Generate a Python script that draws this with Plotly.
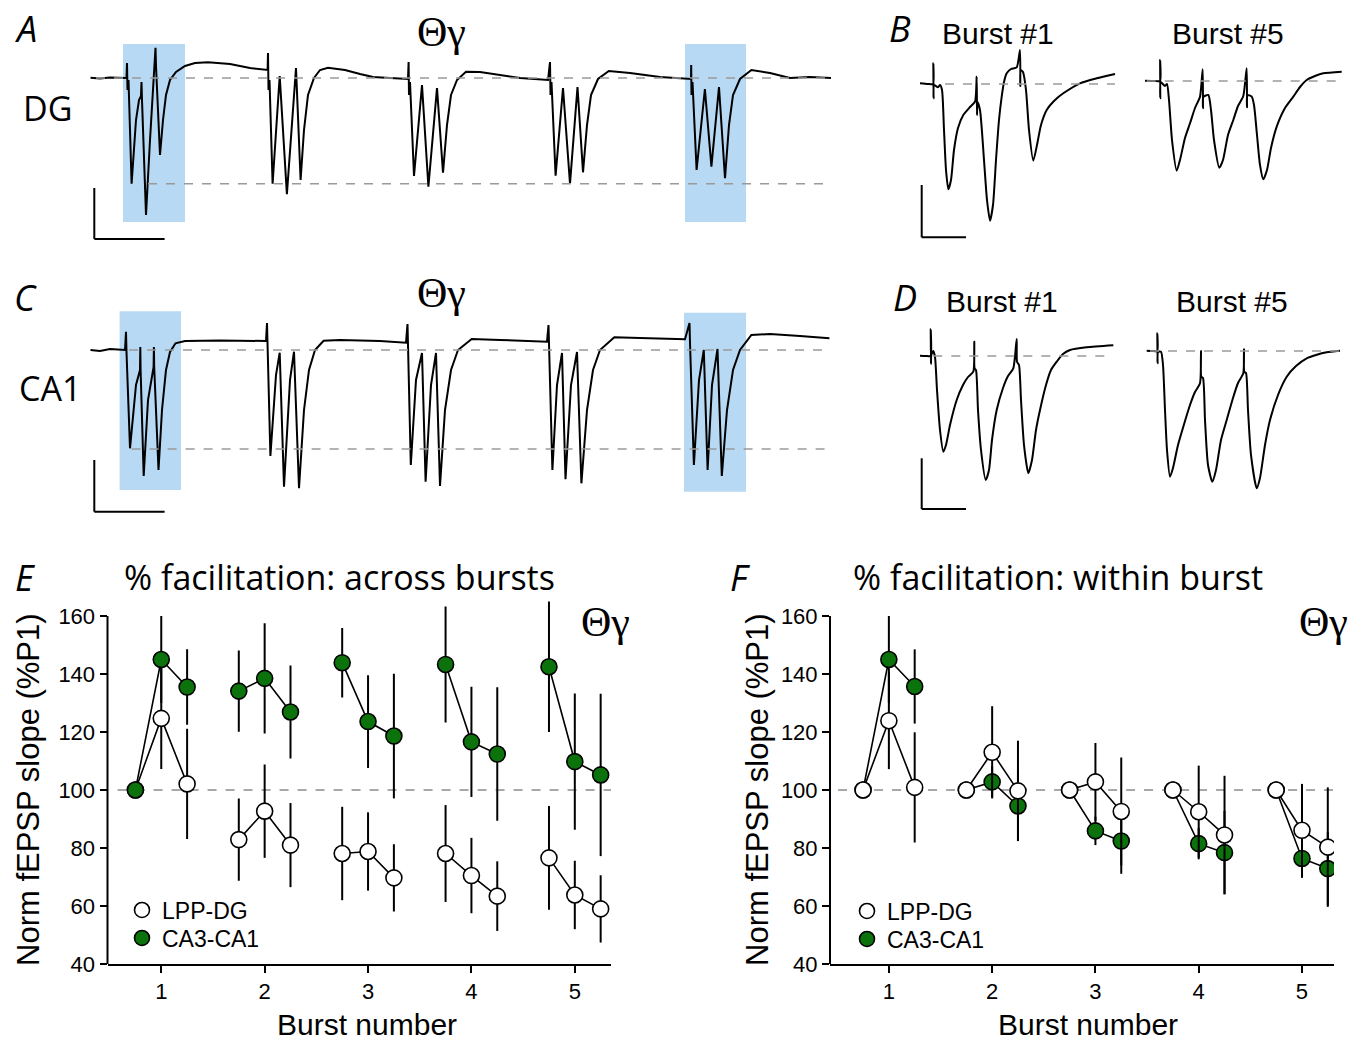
import plotly.graph_objects as go

# ---------------- data: summary plots (E, F) ----------------
bursts = [1, 2, 3, 4, 5]
pulse_offsets = [-0.25, 0.0, 0.25]
y_ticks = [40, 60, 80, 100, 120, 140, 160]

# E: % facilitation across bursts (normalised to P1 of burst 1)
E_ca1 = [[100, 145, 135.5], [134.1, 138.5, 126.9], [143.9, 123.6, 118.6],
         [143.3, 116.6, 112.4], [142.5, 109.8, 105.2]]
E_ca1_err = [[0, 15, 13], [14, 19, 16], [12, 16, 21.5], [20, 19, 23], [22.5, 23.5, 28]]
E_dg = [[100, 124.7, 102.1], [82.9, 92.7, 81], [78.1, 78.8, 69.7],
        [78.1, 70.5, 63.4], [76.6, 63.8, 59]]
E_dg_err = [[0, 17.5, 19], [14.2, 16.1, 14.5], [16.1, 13.5, 11.6],
            [16.7, 13, 12], [17.9, 11.8, 11.6]]

# F: % facilitation within burst (normalised to P1 of each burst)
F_ca1 = [[100, 145, 135.7], [100, 102.8, 94.5], [100, 85.9, 82.4],
         [100, 81.5, 78.4], [100, 76.4, 72.9]]
F_ca1_err = [[0, 15, 12.8], [0, 5.4, 12.1], [0, 4.9, 11.3], [0, 5.4, 14.4], [0, 6.7, 12.7]]
F_dg = [[100, 123.9, 100.9], [100, 113, 99.7], [100, 102.8, 92.6],
        [100, 92.5, 84.5], [100, 86.1, 80.3]]
F_dg_err = [[0, 16.7, 19], [0, 15.9, 17.3], [0, 13.4, 18.6], [0, 15.9, 20.4], [0, 16, 20.6]]

# ---------------- data: example traces (A-D) ----------------
# time (relative units), amplitude (relative units, baseline = 0)
A_t = [0.5, 10, 20, 30, 36.5, 37, 37.5, 38.5, 41.6, 46, 49, 51, 51.5, 52, 56, 60, 64, 65, 65.5, 66,
       70, 73, 76, 80, 86, 95, 105, 118, 140, 160, 177.6,
       178, 178.5, 179.5, 182.6, 189.7, 196.9, 206, 210.6, 214, 218, 224, 230, 238, 255, 270, 283, 300, 318,
       318.6, 319, 320, 324, 332, 338.4, 347, 353, 357, 361, 367, 376, 390, 410, 430, 458,
       460, 460.5, 461.5, 465.6, 473, 480, 487.5, 493, 497, 501, 508, 518.8, 540, 570, 601,
       601.2, 601.5, 602.5, 606.6, 614.9, 621.4, 629, 635, 639, 643, 650, 661.4, 680, 700, 720, 741]
A_v = [0.3, -0.5, 0.5, 0, 0, 15, -12, -2, -105.7, -42, -22, -18, -4, -22, -137, -62, -2, 13, 30.3, 12,
       -77, -42, -17, -2, 6, 12, 15, 15.7, 14, 10, 8,
       25, -12, -2, -105.7, 2, -116.3, 10, -102, -52, -17, 0, 8, 10.3, 8, 4, 1, 0, -1,
       16, -17, -4, -98, -7, -108.7, -10, -94.7, -47, -17, -2, 6.3, 6, 3, 0, -2,
       16, -17, -4, -97.7, -10, -105.7, -9, -94.3, -47, -17, -1, 7, 5, 1, -1,
       13, -17, -4, -92, -11, -88.7, -9, -100.3, -47, -17, -1, 8, 5, 0, 1, 0]

C_t = [0.5, 10, 20, 35, 36, 36.5, 40, 46, 50, 50.3, 50.6, 53.7, 58, 63.6, 63.9, 64.2, 68.5,
       72, 76, 80, 85.5, 95, 130, 160, 176,
       177, 177.5, 180.4, 186, 189.7, 194, 200, 204, 209, 214, 219, 225, 233.6, 250, 290, 316,
       317.5, 318, 320.8, 326, 332, 335.6, 341, 346, 350, 355, 361, 368, 381.7, 410, 457,
       458.5, 459, 462.4, 467, 472, 475.5, 481, 487, 491.4, 497, 503, 510, 524.3, 550, 595,
       599.5, 600, 603.9, 609, 613.8, 617.6, 622, 627.5, 631.8, 637, 643, 650, 661.4, 680, 710, 739.4]
C_v = [0, -1, 1, 0, 18.3, -2, -98.3, -35, -20, 3, -20, -126, -50, -17, 3, -17, -120,
       -60, -20, -2, 6.7, 9, 9.5, 9.3, 9,
       27, 5, -106, -25, -2.7, -136.7, -30, -1.7, -138.3, -60, -20, 0, 9.3, 10, 9, 7.3,
       26, 5, -115, -30, -3, -131.7, -35, -3, -136, -60, -20, 0, 11, 10, 8.3,
       25, 5, -120, -35, -3, -129.3, -35, -2, -133.3, -60, -20, 0, 12.7, 12, 10.7,
       27, 7, -115, -30, 0, -120, -35, 1, -126, -60, -20, 0, 15, 16, 14, 11.7]

B1_t = [5, 13, 18, 18.3, 18.6, 19, 23, 25, 27, 29, 31, 33.3, 36, 39, 43, 48.3, 55, 60, 61.7, 62, 62.5,
        65, 69, 72, 75, 78, 81, 84, 86.7, 89, 91.7, 96, 101.7, 105, 105.3, 105.6,
        108, 111, 114, 118.3, 122, 126, 131.7, 140, 148.3, 165, 181.7, 200]
B1_v = [0.7, 0, 0, 20.7, -14.3, -1, -3.3, -1, -6, -46, -86, -105.3, -96, -66, -44, -31, -23, -17.7, 7.3, -31, -18,
        -26, -76, -116, -136.7, -121, -76, -36, -12.7, 2, 10.7, 15, 16.7, 34, -2, 14,
        12, -6, -46, -76.7, -61, -41, -26, -16, -9.3, 0.7, 5.7, 10]
B5_t = [230, 240, 245, 245.1, 245.3, 245.6, 250, 252, 254, 257, 261.7, 265, 270, 275, 280, 285,
        287.7, 288, 288.3, 293.3, 296, 299, 304.3, 308, 313, 318.3, 323, 328.3,
        331.7, 332, 332.3, 336.7, 339, 342, 345, 348.3, 352, 356, 361.7, 370, 378.3, 385, 391.7, 400, 408.3, 426.7]
B5_v = [3.3, 3, 3, 24, -14.3, 2, -2, 0, -16, -56, -86.7, -76, -54, -39.3, -24, -12.7,
        14.7, -24.3, -13, -11, -26, -56, -83.7, -76, -51, -36, -22, -12,
        15.7, -23.3, -11, -12.7, -21, -51, -81, -95.3, -86, -64, -42.7, -24, -12.7, -3, 4, 8, 10.7, 12.3]

D1_t = [5, 11, 15.5, 15.7, 16, 16.3, 18.3, 20, 22, 25, 28.3, 31, 35, 41.7, 48, 53, 58.3, 59.3, 59.6,
        61, 63, 66, 70.7, 74, 77, 81.7, 88, 93, 98.3, 101.7, 102,
        104, 106, 109, 113.3, 117, 121, 125, 131, 136, 141.7, 148, 155, 171.7, 198.3]
D1_v = [0.3, 0, 0, 26.7, -8, 1, 5, -1, -34, -74, -95.7, -89, -69, -44, -29, -21, -15.7, 14.3, -12.3,
        -14, -54, -94, -124, -114, -84, -54, -32, -20, -12.3, 17, -5.7,
        -9, -44, -89, -117.3, -104, -74, -54, -29, -14, -5.7, 2, 6, 8.7, 10.7]
D5_t = [231.7, 237, 242.2, 242.3, 242.6, 243, 246, 248, 250, 252, 255, 258, 263, 268.3, 275, 280, 285, 286, 286.3,
        288, 290, 293, 297.3, 301, 306, 311.7, 318, 323, 328.3, 329, 329.3,
        331, 333, 336, 341.7, 345, 350, 355, 363, 371.7, 381, 391.7, 401, 411.7, 425]
D5_v = [5.3, 5, 5, 22.7, -7.3, 4, 4.3, -9, -54, -94, -120.7, -112, -89, -70.7, -49, -36, -27.3, 5, -20.7,
        -22, -64, -109, -125.7, -114, -84, -64, -42, -27, -17.3, 6.7, -15.7,
        -17, -54, -99, -132.3, -122, -89, -64, -39, -20.7, -10, -2.3, 1, 3.7, 5.3]

GREEN = "#0c720c"
BLUE = "#b7d9f3"
W, H = 1365, 1040
H_EFF = 1027  # effective vertical extent observed on screen


def px(x):
    return x / W


def py(y):
    return 1 - y / H_EFF


fig = go.Figure()


def add_series(vals, errs, color, xa, ya):
    for b, row, erow in zip(bursts, vals, errs):
        fig.add_trace(go.Scatter(
            x=[b + o for o in pulse_offsets], y=row,
            mode="lines+markers", xaxis=xa, yaxis=ya, showlegend=False,
            line=dict(color="black", width=1.6),
            marker=dict(size=16, color=color, line=dict(color="black", width=1.6)),
            error_y=dict(type="data", array=erow, symmetric=True, width=0,
                         thickness=2, color="black"),
        ))


# E: white drawn first, green on top
add_series(E_dg, E_dg_err, "white", "x", "y")
add_series(E_ca1, E_ca1_err, GREEN, "x", "y")
# F: green first, white on top
add_series(F_ca1, F_ca1_err, GREEN, "x2", "y2")
add_series(F_dg, F_dg_err, "white", "x2", "y2")

# legend entries (one legend box per entry for precise spacing)
for lg_w, lg_g, xa, ya in [("legend", "legend3", "x", "y"), ("legend2", "legend4", "x2", "y2")]:
    fig.add_trace(go.Scatter(x=[None], y=[None], mode="markers", name="LPP-DG", legend=lg_w,
                             xaxis=xa, yaxis=ya,
                             marker=dict(size=15, color="white", line=dict(color="black", width=1.6))))
    fig.add_trace(go.Scatter(x=[None], y=[None], mode="markers", name="CA3-CA1", legend=lg_g,
                             xaxis=xa, yaxis=ya,
                             marker=dict(size=15, color=GREEN, line=dict(color="black", width=1.6))))

# traces A-D
for t, v, xa, ya, shape in [(A_t, A_v, "x3", "y3", "linear"), (C_t, C_v, "x5", "y5", "linear"),
                            (B1_t, B1_v, "x4", "y4", "spline"), (B5_t, B5_v, "x4", "y4", "spline"),
                            (D1_t, D1_v, "x6", "y6", "spline"), (D5_t, D5_v, "x6", "y6", "spline")]:
    fig.add_trace(go.Scatter(x=t, y=v, mode="lines", xaxis=xa, yaxis=ya,
                             line=dict(color="black", width=2, shape=shape, smoothing=0.6),
                             showlegend=False, hoverinfo="skip"))

shapes = []
# summary plot decorations
for xr, yr, x0 in [("x", "y", 0.02), ("x2", "y2", 0.016)]:
    shapes.append(dict(type="line", xref=xr + " domain", yref=yr, x0=0, x1=0, y0=40, y1=160,
                       line=dict(color="black", width=2)))
    shapes.append(dict(type="line", xref=xr + " domain", yref=yr, x0=x0, x1=1, y0=100, y1=100,
                       line=dict(color="#a8a8a8", width=2, dash="dash"), layer="below"))

# trace panel decorations
dash = dict(color="#9a9a9a", width=1.5, dash="dash")
bar = dict(color="black", width=2)


def rect(xr, yr, x0, x1, y0, y1):
    shapes.append(dict(type="rect", xref=xr, yref=yr, x0=x0, x1=x1, y0=y0, y1=y1,
                       fillcolor=BLUE, line=dict(width=0), layer="below"))


def hline(xr, yr, x0, x1, y, line):
    shapes.append(dict(type="line", xref=xr, yref=yr, x0=x0, x1=x1, y0=y, y1=y, line=line))


def vline(xr, yr, x, y0, y1, line):
    shapes.append(dict(type="line", xref=xr, yref=yr, x0=x, x1=x, y0=y0, y1=y1, line=line))


# A
rect("x3", "y3", 33, 95, -144, 34)
rect("x3", "y3", 595, 656, -144, 34)
hline("x3", "y3", 6, 742, 0, dash)
hline("x3", "y3", 58, 742, -105.7, dash)
vline("x3", "y3", 4.3, -110, -161, bar)
hline("x3", "y3", 4.3, 74.6, -161, bar)
# C
rect("x5", "y5", 29.6, 91, -140, 38.7)
rect("x5", "y5", 594, 656, -141.7, 37.3)
hline("x5", "y5", 39, 740, 0, dash)
hline("x5", "y5", 41.6, 740, -99, dash)
vline("x5", "y5", 4.3, -110, -161.7, bar)
hline("x5", "y5", 4.3, 74.6, -161.7, bar)
# B
hline("x4", "y4", 30, 200, 0, dash)
hline("x4", "y4", 231.7, 426.7, 3, dash)
vline("x4", "y4", 6.7, -101, -153.3, bar)
hline("x4", "y4", 6.7, 51, -153.3, bar)
# D
hline("x6", "y6", 18.3, 198.3, 0, dash)
hline("x6", "y6", 235, 425, 5, dash)
vline("x6", "y6", 6.7, -102.3, -153, bar)
hline("x6", "y6", 6.7, 51, -153, bar)

# annotations
MY = "Open Sans"
AR = "Liberation Sans, Arial"
SERIF = "Liberation Serif, Times New Roman"
ann = []


def text(s, x, y, size, family, angle=0, xanchor="center"):
    ann.append(dict(text=s, x=px(x), y=py(y), xref="paper", yref="paper", showarrow=False,
                    xanchor=xanchor, yanchor="middle", textangle=angle,
                    font=dict(size=size, family=family, color="black")))


text("<i>A</i>", 25, 28, 36, MY)
text("Θγ", 441, 32, 42, SERIF)
text("DG", 47, 108, 34, MY)
text("<i>C</i>", 25, 297, 36, MY)
text("Θγ", 441, 293, 42, SERIF)
text("CA1", 50, 388, 34, MY)
text("<i>B</i>", 900, 28, 36, MY)
text("Burst #1", 998, 33, 30, AR)
text("Burst #5", 1228, 33, 30, AR)
text("<i>D</i>", 905, 297, 36, MY)
text("Burst #1", 1002, 302, 30, AR)
text("Burst #5", 1232, 302, 30, AR)
text("<i>E</i>", 25, 577, 36, MY)
text("% facilitation: across bursts", 339, 577, 34, MY)
text("<i>F</i>", 740, 577, 36, MY)
text("% facilitation: within burst", 1058, 577, 34, MY)
text("Θγ", 605, 622, 42, SERIF)
text("Θγ", 1323, 622, 42, SERIF)
text("Norm fEPSP slope (%P1)", 28, 790, 31, AR, angle=-90)
text("Norm fEPSP slope (%P1)", 757, 790, 31, AR, angle=-90)
text("Burst number", 367, 1024, 30, AR)
text("Burst number", 1088, 1024, 30, AR)

ydom = [py(964), py(964 - 130 * (348 / 120))]
xcommon = dict(tickvals=bursts, ticks="outside", ticklen=7, tickwidth=2, tickcolor="black",
               showline=True, linewidth=2, linecolor="black", showgrid=False, zeroline=False,
               ticklabelstandoff=0,
               tickfont=dict(size=22, family=AR, color="black"), fixedrange=True)
ycommon = dict(range=[40, 170], tickvals=y_ticks, ticks="outside", ticklen=7, tickwidth=2,
               tickcolor="black", showline=False, showgrid=False, zeroline=False,
               tickfont=dict(size=22, family=AR, color="black"), domain=ydom)
hidden = dict(visible=False, showgrid=False, zeroline=False)


def legend_at(x, y):
    return dict(x=px(x), y=py(y), xanchor="left", yanchor="middle", bgcolor="rgba(0,0,0,0)",
                font=dict(size=23, family=AR, color="black"), itemwidth=30)


fig.update_layout(
    width=W, height=H, margin=dict(l=0, r=0, t=0, b=0), autosize=False,
    paper_bgcolor="white", plot_bgcolor="rgba(0,0,0,0)",
    xaxis=dict(domain=[px(107.5), px(611)], range=[0.48, 5.35], anchor="y", **xcommon),
    yaxis=dict(anchor="x", **ycommon),
    xaxis2=dict(domain=[px(830), px(1334)], range=[0.43, 5.31], anchor="y2", **xcommon),
    yaxis2=dict(anchor="x2", **ycommon),
    xaxis3=dict(domain=[px(90), px(832)], range=[0, 742], anchor="y3", **hidden),
    yaxis3=dict(domain=[py(245), py(40)], range=[-167, 38], anchor="x3", **hidden),
    xaxis4=dict(domain=[px(915), px(1345)], range=[0, 430], anchor="y4", **hidden),
    yaxis4=dict(domain=[py(245), py(40)], range=[-161, 44], anchor="x4", **hidden),
    xaxis5=dict(domain=[px(90), px(832)], range=[0, 742], anchor="y5", **hidden),
    yaxis5=dict(domain=[py(515), py(305)], range=[-165, 45], anchor="x5", **hidden),
    xaxis6=dict(domain=[px(915), px(1345)], range=[0, 430], anchor="y6", **hidden),
    yaxis6=dict(domain=[py(515), py(305)], range=[-159, 51], anchor="x6", **hidden),
    legend=legend_at(122, 910),
    legend3=legend_at(122, 938),
    legend2=legend_at(847, 911),
    legend4=legend_at(847, 939),
    shapes=shapes, annotations=ann, showlegend=True,
)

fig.write_html(
    "out.html",
    config={"displayModeBar": False},
    post_script=("document.documentElement.style.margin='0px';"
                 "document.body.style.margin='0px';"
                 "document.documentElement.style.overflow='hidden';"
                 "document.body.style.overflow='hidden';"),
)
